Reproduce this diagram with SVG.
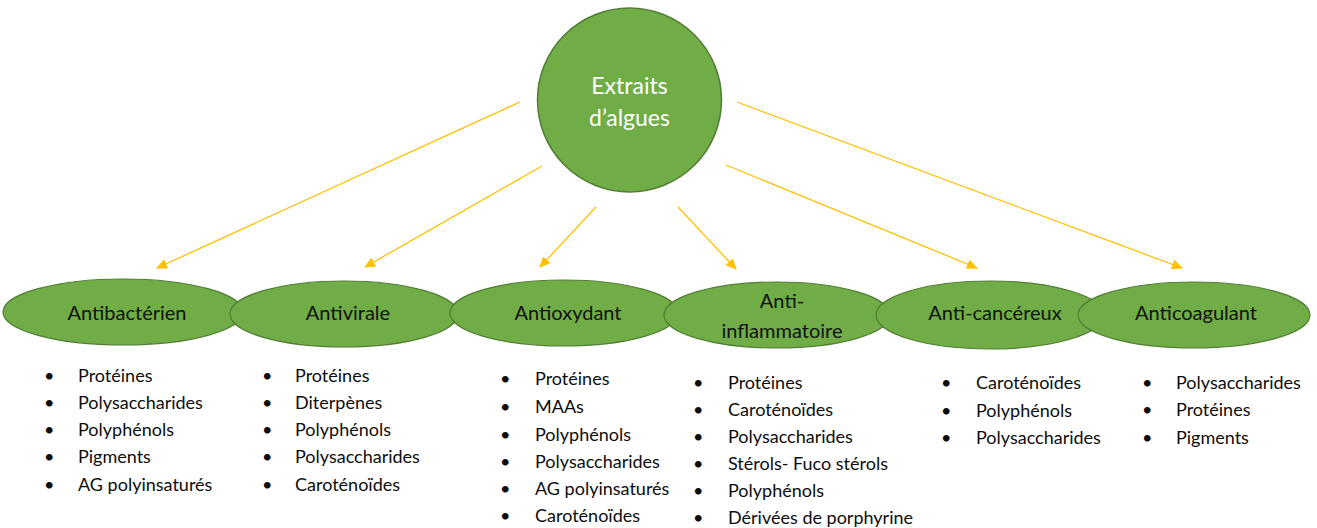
<svg xmlns="http://www.w3.org/2000/svg" width="1317" height="528" viewBox="0 0 1317 528">
<defs>
<style>
.bg{fill:#ffffff}
.node{fill:#70AD47;stroke:#507E32;stroke-width:1.2}
.hub{fill:#70AD47;stroke:#507E32;stroke-width:1.5}
.lbl{font-family:Lato,"Liberation Sans",sans-serif;font-size:20px;fill:#111111;text-anchor:middle}
.hublbl{font-family:Lato,"Liberation Sans",sans-serif;font-size:23px;fill:#ffffff;text-anchor:middle}
.item{font-family:Lato,"Liberation Sans",sans-serif;font-size:18px;fill:#0d0d0d}
.conn{stroke:#FFC000;stroke-width:1.3;fill:none;marker-end:url(#ah)}
</style>
<marker id="ah" markerWidth="11" markerHeight="10" refX="10" refY="5" orient="auto" markerUnits="userSpaceOnUse">
<path d="M0,0 L11,5 L0,10 Z" fill="#FFC000"/>
</marker>
</defs>
<rect class="bg" x="0" y="0" width="1317" height="528"/>
<g id="connectors">
<line class="conn" x1="520" y1="102" x2="157" y2="268"/>
<line class="conn" x1="542" y1="166" x2="365" y2="267"/>
<line class="conn" x1="596" y1="207" x2="540" y2="267"/>
<line class="conn" x1="678" y1="207" x2="736" y2="269"/>
<line class="conn" x1="726" y1="165" x2="977" y2="268"/>
<line class="conn" x1="737" y1="102" x2="1182" y2="268"/>
</g>
<g id="extraits">
<circle class="hub" cx="629.5" cy="100" r="92"/>
<text class="hublbl" x="629.5" y="94">Extraits</text>
<text class="hublbl" x="629.5" y="126">d’algues</text>
</g>
<g id="antibacterien">
<ellipse class="node" cx="123" cy="312" rx="120" ry="33"/>
<text class="lbl" x="127" y="320">Antibactérien</text>
</g>
<g id="antivirale">
<ellipse class="node" cx="344" cy="314" rx="114" ry="33"/>
<text class="lbl" x="348" y="320">Antivirale</text>
</g>
<g id="antioxydant">
<ellipse class="node" cx="564" cy="313" rx="114" ry="33"/>
<text class="lbl" x="568" y="320">Antioxydant</text>
</g>
<g id="anti-inflammatoire">
<ellipse class="node" cx="777" cy="315" rx="113" ry="33"/>
<text class="lbl" x="782" y="308">Anti-</text>
<text class="lbl" x="782" y="338">inflammatoire</text>
</g>
<g id="anti-cancereux">
<ellipse class="node" cx="990" cy="315" rx="114" ry="34"/>
<text class="lbl" x="995" y="320">Anti-cancéreux</text>
</g>
<g id="anticoagulant">
<ellipse class="node" cx="1194" cy="315" rx="116" ry="33"/>
<text class="lbl" x="1196" y="320">Anticoagulant</text>
</g>
<g id="list-antibacterien" class="item">
<text x="44" y="382">•</text><text x="78" y="382">Protéines</text>
<text x="44" y="409">•</text><text x="78" y="409">Polysaccharides</text>
<text x="44" y="436">•</text><text x="78" y="436">Polyphénols</text>
<text x="44" y="463">•</text><text x="78" y="463">Pigments</text>
<text x="44" y="491">•</text><text x="78" y="491">AG polyinsaturés</text>
</g>
<g id="list-antivirale" class="item">
<text x="262" y="382">•</text><text x="295" y="382">Protéines</text>
<text x="262" y="409">•</text><text x="295" y="409">Diterpènes</text>
<text x="262" y="436">•</text><text x="295" y="436">Polyphénols</text>
<text x="262" y="463">•</text><text x="295" y="463">Polysaccharides</text>
<text x="262" y="491">•</text><text x="295" y="491">Caroténoïdes</text>
</g>
<g id="list-antioxydant" class="item">
<text x="500" y="385">•</text><text x="535" y="385">Protéines</text>
<text x="500" y="413">•</text><text x="535" y="413">MAAs</text>
<text x="500" y="441">•</text><text x="535" y="441">Polyphénols</text>
<text x="500" y="468">•</text><text x="535" y="468">Polysaccharides</text>
<text x="500" y="495">•</text><text x="535" y="495">AG polyinsaturés</text>
<text x="500" y="522">•</text><text x="535" y="522">Caroténoïdes</text>
</g>
<g id="list-anti-inflammatoire" class="item">
<text x="693" y="389">•</text><text x="728" y="389">Protéines</text>
<text x="693" y="416">•</text><text x="728" y="416">Caroténoïdes</text>
<text x="693" y="443">•</text><text x="728" y="443">Polysaccharides</text>
<text x="693" y="470">•</text><text x="728" y="470">Stérols- Fuco stérols</text>
<text x="693" y="497">•</text><text x="728" y="497">Polyphénols</text>
<text x="693" y="524">•</text><text x="728" y="524">Dérivées de porphyrine</text>
</g>
<g id="list-anti-cancereux" class="item">
<text x="941" y="389">•</text><text x="976" y="389">Caroténoïdes</text>
<text x="941" y="417">•</text><text x="976" y="417">Polyphénols</text>
<text x="941" y="444">•</text><text x="976" y="444">Polysaccharides</text>
</g>
<g id="list-anticoagulant" class="item">
<text x="1142" y="389">•</text><text x="1176" y="389">Polysaccharides</text>
<text x="1142" y="416">•</text><text x="1176" y="416">Protéines</text>
<text x="1142" y="444">•</text><text x="1176" y="444">Pigments</text>
</g>
</svg>
